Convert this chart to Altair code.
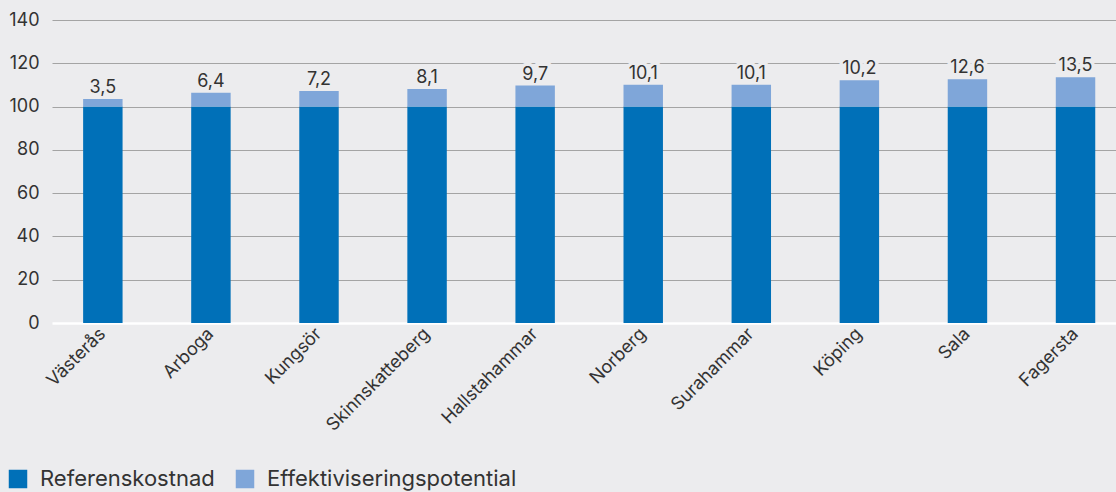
import altair as alt
import pandas as pd

municipalities = ["Västerås", "Arboga", "Kungsör", "Skinnskatteberg", "Hallstahammar",
                  "Norberg", "Surahammar", "Köping", "Sala", "Fagersta"]
reference_cost = [100, 100, 100, 100, 100, 100, 100, 100, 100, 100]
potential = [3.5, 6.4, 7.2, 8.1, 9.7, 10.1, 10.1, 12.2, 12.6, 13.5]
potential_labels = ["3,5", "6,4", "7,2", "8,1", "9,7", "10,1", "10,1", "10,2", "12,6", "13,5"]
series_names = ["Referenskostnad", "Effektiviseringspotential"]
y_ticks = [0, 20, 40, 60, 80, 100, 120, 140]

BG = "#ececee"
DARK = "#0070b8"
LIGHT = "#7fa6d9"
TEXT = "#333333"
FONT = "Inter"

rows = []
for m, r, p in zip(municipalities, reference_cost, potential):
    rows.append({"kommun": m, "serie": series_names[0], "value": r, "ord": 0})
    rows.append({"kommun": m, "serie": series_names[1], "value": p, "ord": 1})
df = pd.DataFrame(rows)

lab = pd.DataFrame({
    "kommun": municipalities,
    "top": [r + p for r, p in zip(reference_cost, potential)],
    "label": potential_labels,
})

x_enc = alt.X(
    "kommun:N",
    sort=municipalities,
    title=None,
    scale=alt.Scale(paddingInner=0.635, paddingOuter=0.24, align=0.6),
    axis=alt.Axis(
        labelAngle=-45, labelAlign="right", labelBaseline="middle",
        labelFont=FONT, labelFontSize=18, labelColor=TEXT, labelPadding=8,
        ticks=False, domain=False, grid=False,
    ),
)

bars = alt.Chart(df).mark_bar().encode(
    x=x_enc,
    y=alt.Y(
        "value:Q", stack="zero", title=None,
        scale=alt.Scale(domain=[0, 140], nice=False),
        axis=alt.Axis(
            values=y_ticks, ticks=False, domain=False,
            labelFont=FONT, labelFontSize=18, labelColor=TEXT, labelPadding=13,
            gridColor=alt.condition("datum.value === 0", alt.value("#ffffff"), alt.value("#a4a4a4")),
            gridWidth=alt.condition("datum.value === 0", alt.value(2.5), alt.value(1.2)),
        ),
    ),
    color=alt.Color(
        "serie:N",
        scale=alt.Scale(domain=series_names, range=[DARK, LIGHT]),
        legend=alt.Legend(
            title=None, orient="none", direction="horizontal",
            legendX=-45, legendY=448, padding=0,
            symbolType="square", symbolSize=342, symbolStrokeWidth=0, symbolOpacity=1,
            labelFont=FONT, labelFontSize=22, labelColor=TEXT, labelOffset=11,
            columnPadding=19, labelLimit=400,
        ),
    ),
    order=alt.Order("ord:Q"),
)

label_bg = alt.Chart(lab).mark_text(
    baseline="alphabetic", dy=-6, font=FONT, fontSize=18,
    color=BG, stroke=BG, strokeWidth=7,
).encode(x=alt.X("kommun:N", sort=municipalities), y="top:Q", text="label:N")

labels = alt.Chart(lab).mark_text(
    baseline="alphabetic", dy=-6, font=FONT, fontSize=18, color=TEXT,
).encode(x=alt.X("kommun:N", sort=municipalities), y="top:Q", text="label:N")

chart = alt.layer(label_bg, bars, labels).properties(
    width=1064, height=303,
    padding={"left": 52, "top": 20, "right": 0, "bottom": 169},
    autosize="none",
    background=BG,
).configure_view(stroke=None)

chart.save("out.html", embed_options={"renderer": "svg", "actions": False})
